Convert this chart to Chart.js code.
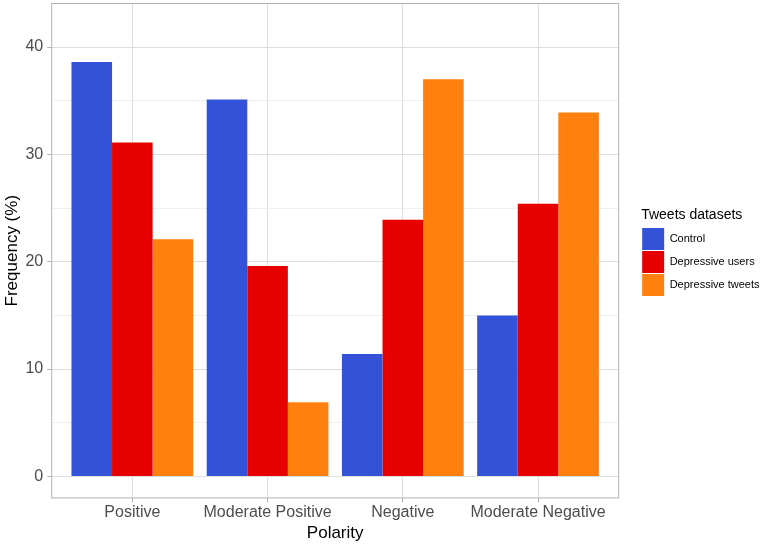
<!DOCTYPE html>
<html>
<head>
<meta charset="utf-8">
<script src="https://cdn.jsdelivr.net/npm/chart.js@4.4.1/dist/chart.umd.min.js"></script>
<style>
  html, body { margin: 0; padding: 0; background: #fff; }
  #wrap { width: 782px; height: 546px; }
</style>
</head>
<body>
<div id="wrap"><canvas id="polarityChart"></canvas></div>
<script>
const categories = ['Positive', 'Moderate Positive', 'Negative', 'Moderate Negative'];
const control = [38.6, 35.1, 11.4, 15.0];
const depressiveUsers = [31.1, 19.6, 23.9, 25.4];
const depressiveTweets = [22.1, 6.9, 37.0, 33.9];
const yTicks = [0, 5, 10, 15, 20, 25, 30, 35, 40];

const FONT = "'Liberation Sans', Arial, sans-serif";

function toPoints(values) {
    return values.map((v, i) => ({ x: i, y: v }));
}

// grey panel border like ggplot theme_light
const panelBorder = {
    id: 'panelBorder',
    afterDatasetsDraw(chart) {
        const a = chart.chartArea;
        const ctx = chart.ctx;
        ctx.save();
        ctx.strokeStyle = '#B3B3B3';
        ctx.lineWidth = 1;
        ctx.strokeRect(a.left + 0.5, a.top + 0.5, a.right - a.left - 1, a.bottom - a.top - 1);
        ctx.restore();
    }
};

var ctx1 = document.getElementById('polarityChart').getContext('2d');
var polarityChart = new Chart(ctx1, {
    type: 'bar',
    data: {
        datasets: [
            { label: 'Control', data: toPoints(control), backgroundColor: '#3452D8' },
            { label: 'Depressive users', data: toPoints(depressiveUsers), backgroundColor: '#E60000' },
            { label: 'Depressive tweets', data: toPoints(depressiveTweets), backgroundColor: '#FF7F0F' }
        ]
    },
    options: {
        responsive: true,
        maintainAspectRatio: false,
        animation: false,
        datasets: {
            bar: { categoryPercentage: 0.9, barPercentage: 1.0 }
        },
        layout: { padding: { top: 3, right: 13, bottom: 2, left: 2 } },
        scales: {
            x: {
                type: 'linear',
                min: -0.6,
                max: 3.6,
                offset: false,
                afterBuildTicks: (scale) => { scale.ticks = categories.map((c, i) => ({ value: i })); },
                grid: { color: '#DEDEDE', tickColor: '#B3B3B3', tickLength: 4, offset: false },
                border: { display: false },
                ticks: {
                    autoSkip: false,
                    maxRotation: 0,
                    color: '#4D4D4D',
                    font: { family: FONT, size: 16 },
                    padding: 1,
                    callback: (v) => categories[v]
                },
                title: {
                    display: true,
                    text: 'Polarity',
                    color: '#000',
                    font: { family: FONT, size: 17 },
                    padding: { top: 0, bottom: 0 }
                }
            },
            y: {
                min: -2.05,
                max: 44.1,
                afterBuildTicks: (scale) => { scale.ticks = yTicks.map(v => ({ value: v })); },
                afterFit: (scale) => { scale.paddingTop = 0; scale.paddingBottom = 0; },
                grid: {
                    color: (c) => (c.tick && c.tick.value % 10 === 0) ? '#DEDEDE' : '#EFEFEF',
                    tickColor: (c) => (c.tick && c.tick.value % 10 === 0) ? '#B3B3B3' : 'rgba(0,0,0,0)',
                    tickLength: 4
                },
                border: { display: false },
                ticks: {
                    color: '#4D4D4D',
                    font: { family: FONT, size: 16 },
                    padding: 4,
                    callback: (v) => (v % 10 === 0 ? v : '')
                },
                title: {
                    display: true,
                    text: 'Frequency (%)',
                    color: '#000',
                    font: { family: FONT, size: 17 },
                    padding: { top: 0, bottom: -1 }
                }
            },
            // empty axis used only as a gap between the panel and the legend
            gap: {
                type: 'linear',
                position: 'right',
                display: true,
                afterFit: (scale) => { scale.width = 22; scale.paddingTop = 0; scale.paddingBottom = 0; },
                grid: { display: false },
                border: { display: false },
                ticks: { display: false }
            }
        },
        plugins: {
            legend: {
                position: 'right',
                align: 'center',
                fullSize: false,
                title: {
                    display: true,
                    position: 'start',
                    text: 'Tweets datasets',
                    color: '#000',
                    font: { family: FONT, size: 14 },
                    padding: { top: 4, bottom: 2 }
                },
                labels: {
                    boxWidth: 22,
                    boxHeight: 22,
                    padding: 1,
                    color: '#000',
                    font: { family: FONT, size: 11 }
                }
            },
            tooltip: { enabled: false }
        }
    },
    plugins: [panelBorder]
});
</script>
</body>
</html>
